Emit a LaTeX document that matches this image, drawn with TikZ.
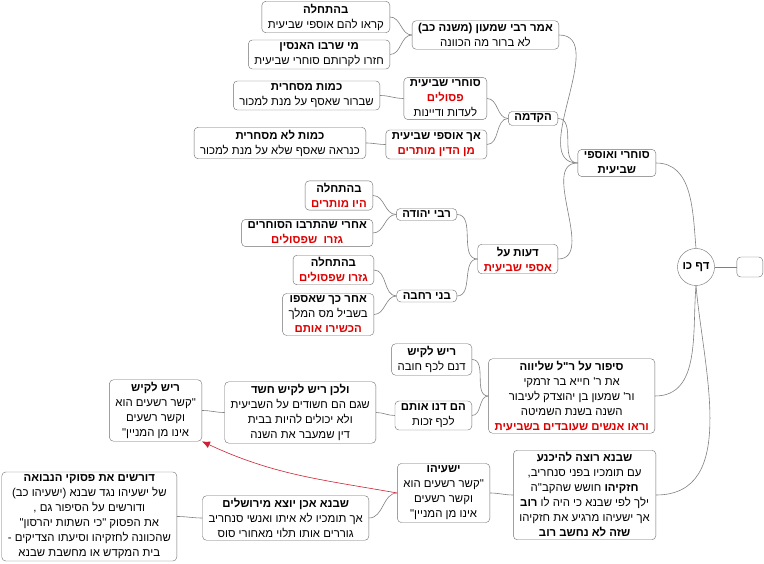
\documentclass[tikz,border=0pt]{standalone}
\definecolor{linegray}{RGB}{128, 128, 128}
\definecolor{boxgray}{RGB}{110, 110, 110}
\definecolor{redtext}{RGB}{221, 0, 0}
\definecolor{arrowred}{RGB}{204, 34, 51}
\usepackage{fontspec}
\usepackage{xcolor}
\newfontfamily\hebfont[Script=Hebrew]{Liberation Sans}
\TeXXeTstate=1
\newcommand{\heb}[1]{\beginR #1\endR}
\newcommand{\hebb}[1]{\beginR\textbf{#1}\endR}
\newcommand{\hebred}[1]{\textcolor{redtext}{\beginR\textbf{#1}\endR}}
\usetikzlibrary{arrows.meta}

\begin{document}
\begin{tikzpicture}[x=1pt, y=1pt,
    box/.style={rectangle, draw=boxgray, rounded corners=4pt, fill=white, align=center, anchor=east,
        inner xsep=6pt, inner ysep=2.5pt, font=\fontsize{11.4}{15}\hebfont},
    link/.style={draw=linegray, line width=0.6pt}]
    \fill[white] (0,0) rectangle (764,-564);
    \useasboundingbox (0,0) rectangle (764,-564);

    % Root
    \node[circle, draw=boxgray, fill=white, minimum size=37pt, inner sep=1pt, font=\fontsize{11.4}{15}\hebfont\bfseries] (daf) at (696,-267) {\heb{דף כו}};
    \node[box, minimum width=26pt, minimum height=20pt] (empty_box) at (763,-267) {};

    % Sochrei ve-osfei
    \node[box] (sochrei_osfei) at (656,-163) {\hebb{סוחרי ואוספי}\\ \hebb{שביעית}};
    \node[box] (amar_rabbi_shimon) at (559,-35) {\hebb{אמר רבי שמעון (משנה כב)}\\ \heb{לא ברור מה הכוונה}};
    \node[box] (bahatchala_kar) at (390,-17) {\hebb{בהתחלה}\\ \heb{קראו להם אוספי שביעית}};
    \node[box] (mi_sheravu) at (390,-54.5) {\hebb{מי שרבו האנסין}\\ \heb{חזרו לקרותם סוחרי שביעית}};
    \node[box] (hakdama) at (558,-118.5) {\hebb{הקדמה}};
    \node[box] (sochrei) at (487,-98.5) {\hebb{סוחרי שביעית}\\ \hebred{פסולים}\\ \heb{לעדות ודיינות}};
    \node[box] (ach_osfei) at (487,-144.5) {\hebb{אך אוספי שביעית}\\ \hebred{מן הדין מותרים}};
    \node[box] (kamut_mis) at (380,-95.5) {\hebb{כמות מסחרית}\\ \heb{שברור שאסף על מנת למכור}};
    \node[box] (kamut_lo_mis) at (366,-143) {\hebb{כמות לא מסחרית}\\ \heb{כנראה שאסף שלא על מנת למכור}};

    % Deot
    \node[box] (deot) at (558,-259) {\hebb{דעות על}\\ \hebred{אספי שביעית}};
    \node[box] (rabbi_yehuda) at (457,-214.5) {\hebb{רבי יהודה}};
    \node[box] (bnei_rechava) at (457,-296) {\hebb{בני רחבה}};
    \node[box] (yehuda_start) at (373,-195.5) {\hebb{בהתחלה}\\ \hebred{היו מותרים}};
    \node[box] (yehuda_after) at (373,-233) {\hebb{אחרי שהתרבו הסוחרים}\\ \hebred{גזרו~ שפסולים}};
    \node[box] (rechava_start) at (374,-270) {\hebb{בהתחלה}\\ \hebred{גזרו שפסולים}};
    \node[box] (rechava_after) at (374,-314.5) {\hebb{אחר כך שאספו}\\ \heb{בשביל מס המלך}\\ \hebred{הכשירו אותם}};

    % Sipur
    \node[box] (sipur_rl) at (655,-396) {\hebb{סיפור על ר"ל שליווה}\\ \heb{את ר' חייא בר זרמקי}\\ \heb{ור' שמעון בן יהוצדק לעיבור}\\ \heb{השנה בשנת השמיטה}\\ \hebred{וראו אנשים שעובדים בשביעית}};
    \node[box] (resh_lakish_chova) at (472,-359.5) {\hebb{ריש לקיש}\\ \heb{דנם לכף חובה}};
    \node[box] (dan_zchut) at (472,-415.5) {\hebb{הם דנו אותם}\\ \heb{לכף זכות}};
    \node[box] (resh_lakish_chashad) at (376,-412.5) {\hebb{ולכן ריש לקיש חשד}\\ \heb{שגם הם חשודים על השביעית}\\ \heb{ולא יכולים להיות בבית}\\ \heb{דין שמעבר את השנה}};
    \node[box] (resh_lakish_kesher) at (202,-410.5) {\hebb{ריש לקיש}\\ \heb{"קשר רשעים הוא}\\ \heb{וקשר רשעים}\\ \heb{אינו מן המניין"}};

    % Shevna
    \node[box] (shevna_retze) at (656,-495) {\hebb{שבנא רוצה להיכנע}\\ \heb{עם תומכיו בפני סנחריב,}\\ \heb{\textbf{חזקיהו} חושש שהקב"ה}\\ \heb{ילך לפי שבנא כי היה לו \textbf{רוב}}\\ \heb{אך ישעיהו מרגיע את חזקיהו}\\ \hebb{שזה לא נחשב רוב}};
    \node[box] (yeshayahu) at (490,-493) {\hebb{ישעיהו}\\ \heb{"קשר רשעים הוא}\\ \heb{וקשר רשעים}\\ \heb{אינו מן המניין"}};
    \node[box] (shevna_yotze) at (369,-518) {\hebb{שבנא אכן יוצא מירושלים}\\ \heb{אך תומכיו לא איתו ואנשי סנחריב}\\ \heb{גוררים אותו תלוי מאחורי סוס}};
    \node[box] (dorshim) at (177,-516.5) {\hebb{דורשים את פסוקי הנבואה}\\ \heb{של ישעיהו נגד שבנא (ישעיהו כב)}\\ \heb{ודורשים על הסיפור גם ,}\\ \heb{את הפסוק "כי השתות יהרסון"}\\ \heb{שהכוונה לחזקיהו וסיעתו הצדיקים -}\\ \heb{בית המקדש או מחשבת שבנא}};

    % Links
    \draw[link] (daf.east) -- (empty_box.west);
    \draw[link] (daf.north) to[out=95,in=0] (sochrei_osfei.east);
    \draw[link] (daf.south) to[out=-95,in=0] (sipur_rl.east);
    \draw[link] (daf.south) to[out=-85,in=0] (shevna_retze.east);
    \draw[link] (sochrei_osfei.west) to[out=180,in=0] (amar_rabbi_shimon.east);
    \draw[link] (sochrei_osfei.west) to[out=180,in=0] (hakdama.east);
    \draw[link] (sochrei_osfei.west) to[out=180,in=0] (deot.east);
    \draw[link] (amar_rabbi_shimon.west) to[out=180,in=0] (bahatchala_kar.east);
    \draw[link] (amar_rabbi_shimon.west) to[out=180,in=0] (mi_sheravu.east);
    \draw[link] (hakdama.west) to[out=180,in=0] (sochrei.east);
    \draw[link] (hakdama.west) to[out=180,in=0] (ach_osfei.east);
    \draw[link] (sochrei.west) to[out=180,in=0] (kamut_mis.east);
    \draw[link] (ach_osfei.west) to[out=180,in=0] (kamut_lo_mis.east);
    \draw[link] (deot.west) to[out=180,in=0] (rabbi_yehuda.east);
    \draw[link] (deot.west) to[out=180,in=0] (bnei_rechava.east);
    \draw[link] (rabbi_yehuda.west) to[out=180,in=0] (yehuda_start.east);
    \draw[link] (rabbi_yehuda.west) to[out=180,in=0] (yehuda_after.east);
    \draw[link] (bnei_rechava.west) to[out=180,in=0] (rechava_start.east);
    \draw[link] (bnei_rechava.west) to[out=180,in=0] (rechava_after.east);
    \draw[link] (sipur_rl.west) to[out=180,in=0] (resh_lakish_chova.east);
    \draw[link] (sipur_rl.west) to[out=180,in=0] (dan_zchut.east);
    \draw[link] (dan_zchut.west) to[out=180,in=0] (resh_lakish_chashad.east);
    \draw[link] (resh_lakish_chashad.west) to[out=180,in=0] (resh_lakish_kesher.east);
    \draw[link] (shevna_retze.west) to[out=180,in=0] (yeshayahu.east);
    \draw[link] (yeshayahu.west) to[out=180,in=0] (shevna_yotze.east);
    \draw[link] (shevna_yotze.west) to[out=180,in=0] (dorshim.east);
    \draw[-{Latex[length=8pt, width=7pt]}, line width=0.6pt, color=arrowred] (yeshayahu.west) to[out=170,in=-25] (resh_lakish_kesher.south east);
\end{tikzpicture}
\end{document}
